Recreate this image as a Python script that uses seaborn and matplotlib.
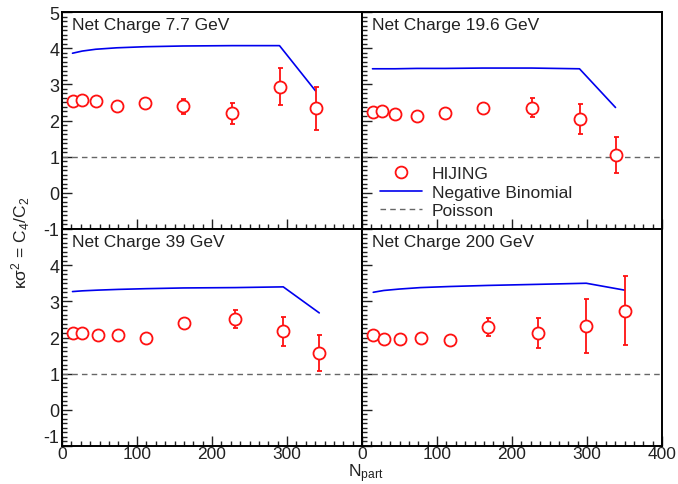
import numpy as np
import pandas as pd
import matplotlib
matplotlib.use("Agg")
import matplotlib.pyplot as plt
import seaborn as sns
from matplotlib.ticker import MultipleLocator
from matplotlib.lines import Line2D

# values
energies = ["7.7", "19.6", "39", "200"]

npart_77 = [14, 27, 45, 73, 111, 161, 227, 290, 338]
hijing_77 = [2.53, 2.57, 2.53, 2.39, 2.48, 2.39, 2.20, 2.94, 2.34]
err_77 = [0.05, 0.05, 0.05, 0.06, 0.07, 0.20, 0.29, 0.50, 0.60]
nbd_77 = [3.86, 3.92, 3.97, 4.01, 4.04, 4.06, 4.07, 4.07, 2.82]

npart_196 = [14, 26, 44, 73, 111, 161, 226, 290, 338]
hijing_196 = [2.23, 2.25, 2.17, 2.13, 2.21, 2.34, 2.35, 2.05, 1.05]
err_196 = [0.05, 0.05, 0.05, 0.06, 0.07, 0.15, 0.26, 0.42, 0.49]
nbd_196 = [3.43, 3.43, 3.43, 3.44, 3.44, 3.45, 3.45, 3.43, 2.36]

npart_39 = [14, 27, 48, 75, 112, 162, 231, 295, 343]
hijing_39 = [2.12, 2.12, 2.08, 2.08, 1.99, 2.40, 2.51, 2.17, 1.57]
err_39 = [0.05, 0.05, 0.05, 0.06, 0.07, 0.10, 0.25, 0.41, 0.50]
nbd_39 = [3.27, 3.29, 3.31, 3.33, 3.35, 3.37, 3.38, 3.40, 2.68]

npart_200 = [15, 29, 50, 78, 117, 168, 235, 299, 350]
hijing_200 = [2.07, 1.96, 1.96, 2.00, 1.92, 2.29, 2.12, 2.32, 2.74]
err_200 = [0.05, 0.05, 0.05, 0.06, 0.07, 0.26, 0.41, 0.75, 0.95]
nbd_200 = [3.25, 3.30, 3.34, 3.38, 3.41, 3.44, 3.47, 3.50, 3.31]

poisson = 1.0

npart = [npart_77, npart_196, npart_39, npart_200]
hijing = [hijing_77, hijing_196, hijing_39, hijing_200]
errs = [err_77, err_196, err_39, err_200]
nbd = [nbd_77, nbd_196, nbd_39, nbd_200]

sns.set_theme(style="ticks")
plt.rcParams["font.family"] = ["Liberation Sans", "DejaVu Sans"]
plt.rcParams["mathtext.default"] = "regular"

fig, axes = plt.subplots(2, 2, figsize=(6.78, 4.85), dpi=100)
fig.subplots_adjust(left=62/678, right=662/678, top=1-13/485, bottom=1-447/485,
                    wspace=0, hspace=0)

for i, ax in enumerate(axes.flat):
    df = pd.DataFrame({"npart": npart[i], "hijing": hijing[i], "err": errs[i], "nbd": nbd[i]})
    ax.axhline(poisson, color="#666666", ls=(0, (4, 3)), lw=1, zorder=1)
    sns.lineplot(data=df, x="npart", y="nbd", ax=ax, color="#0000ee", lw=1.2, zorder=2)
    ax.errorbar(df["npart"], df["hijing"], yerr=df["err"], fmt="none",
                ecolor="#ff1111", elinewidth=1.3, capsize=1.8, capthick=1.3, zorder=3)
    sns.scatterplot(data=df, x="npart", y="hijing", ax=ax, marker="o", s=75,
                    facecolor="white", edgecolor="#ff1111", linewidth=1.3, zorder=4)
    ax.text(0.035, 0.975, f"Net Charge {energies[i]} GeV", transform=ax.transAxes,
            ha="left", va="top", fontsize=12.5, color="#222222")

    ax.set_xlim(0, 400)
    ax.set_ylim(-1, 5)
    ax.xaxis.set_major_locator(MultipleLocator(100))
    ax.xaxis.set_minor_locator(MultipleLocator(12.5))
    ax.yaxis.set_major_locator(MultipleLocator(1))
    ax.yaxis.set_minor_locator(MultipleLocator(0.125))
    ax.tick_params(which="both", direction="in", top=False, right=False,
                   labelsize=13, colors="#222222", width=1, pad=2)
    ax.tick_params(axis="x", pad=0, labelsize=12.5)
    ax.tick_params(which="major", length=7)
    ax.tick_params(which="minor", length=3.5)
    ax.set_xlabel("")
    ax.set_ylabel("")
    for sp in ax.spines.values():
        sp.set_linewidth(1.4)
        sp.set_color("black")

# labels only on the outer edges, with the shared corner values dropped
for ax in axes[0, :]:
    ax.tick_params(labelbottom=False)
for ax in axes[:, 1]:
    ax.tick_params(labelleft=False)
axes[1, 0].set_xticks([0, 100, 200, 300, 400], ["0", "100", "200", "300", ""])
axes[1, 1].set_xticks([0, 100, 200, 300, 400], ["0", "100", "200", "300", "400"])
axes[0, 0].set_yticks([-1, 0, 1, 2, 3, 4, 5], ["-1", "0", "1", "2", "3", "4", "5"])
axes[1, 0].set_yticks([-1, 0, 1, 2, 3, 4, 5], ["-1", "0", "1", "2", "3", "4", ""])
axes[1, 0].get_yticklabels()[0].set_va("bottom")
for ax in axes.flat:
    ax.set_xlim(0, 400)
    ax.set_ylim(-1, 5)

handles = [
    Line2D([], [], marker="o", ls="none", markersize=8.5, markerfacecolor="white",
           markeredgecolor="#ff1111", markeredgewidth=1.3),
    Line2D([], [], color="#0000ee", lw=1.2),
    Line2D([], [], color="#666666", lw=1, ls=(0, (4, 3))),
]
axes[0, 1].legend(handles, ["HIJING", "Negative Binomial", "Poisson"], loc="upper left",
                  bbox_to_anchor=(0.06, 0.29), frameon=False, fontsize=12.5,
                  handlelength=2.4, handletextpad=0.6, labelspacing=0.2,
                  borderaxespad=0, borderpad=0)

fig.text(0.03, 0.5, r"$\kappa\sigma^2$ = C$_4$/C$_2$", rotation=90,
         ha="center", va="center", fontsize=12.5, color="#222222")
fig.text(366/678, 0.001, r"N$_{part}$", ha="center", va="bottom",
         fontsize=12.5, color="#222222")

fig.savefig("out.png", dpi=100)
